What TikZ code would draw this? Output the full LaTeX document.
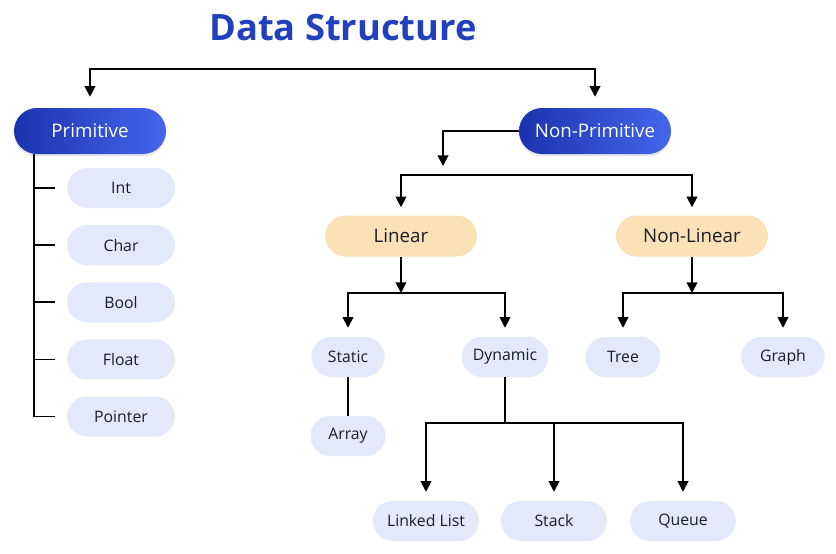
\documentclass[tikz,border=0pt]{standalone}
\usepackage{fontspec}
\setmainfont{Open Sans}
\usetikzlibrary{arrows.meta,positioning,shadows}
\definecolor{titleblue}{HTML}{2140BE}
\definecolor{navyleft}{HTML}{1A33B0}
\definecolor{navyright}{HTML}{4466EC}
\definecolor{sand}{HTML}{FBE2B6}
\definecolor{mist}{HTML}{E3E9FB}
\definecolor{ink}{HTML}{1C1C28}
\tikzset{
	% standard arrow tip
	>={Triangle[length=9pt,width=9pt]},
	% dark blue box
	mainbox/.style={
		rectangle,
		rounded corners=0.69cm,
		left color=navyleft, right color=navyright,
		text=white,
		minimum width=4.56cm, minimum height=1.38cm,
		drop shadow={opacity=0.2, shadow xshift=0pt, shadow yshift=-2pt},
		font=\fontsize{16}{19}\selectfont
	},
	% orange box
	kindbox/.style={
		rectangle,
		rounded corners=0.615cm,
		fill=sand, text=ink,
		minimum width=4.56cm, minimum height=1.23cm,
		font=\fontsize{16}{19}\selectfont
	},
	% light box
	leafbox/.style={
		rectangle,
		rounded corners=0.6cm,
		fill=mist, text=ink,
		minimum height=1.2cm,
		font=\fontsize{13.5}{16}\selectfont
	},
	% plain line
	line/.style={
		line width=1.5pt,
		draw=black
	},
	% arrow style
	arrow/.style={
		->,
		line width=1.5pt,
		draw=black
	}
}
\begin{document}
\begin{tikzpicture}[x=0.03cm, y=-0.03cm]
	\useasboundingbox (0,0) rectangle (836,553);

	\node[font=\fontsize{31}{36}\selectfont\bfseries, text=titleblue] (title) at (343,28) {Data Structure};

	\node[mainbox] (prim) at (90,131) {Primitive};
	\node[mainbox] (nonprim) at (595,131) {Non-Primitive};

	% primitive types
	\node[leafbox, minimum width=3.24cm] (int) at (121,188) {Int};
	\node[leafbox, minimum width=3.24cm, below=0.5cm of int] (char) {Char};
	\node[leafbox, minimum width=3.24cm, below=0.5cm of char] (bool) {Bool};
	\node[leafbox, minimum width=3.24cm, below=0.5cm of bool] (float) {Float};
	\node[leafbox, minimum width=3.24cm, below=0.5cm of float] (pointer) {Pointer};

	\node[kindbox] (linear) at (401,236) {Linear};
	\node[kindbox] (nonlinear) at (692,236) {Non-Linear};

	\node[leafbox, minimum width=2.2cm] (static) at (348,357) {Static};
	\node[leafbox, minimum width=2.6cm] (dynamic) at (505,357) {Dynamic};
	\node[leafbox, minimum width=2.25cm] (tree) at (623,357) {Tree};
	\node[leafbox, minimum width=2.5cm] (graph) at (783,357) {Graph};
	\node[leafbox, minimum width=2.25cm] (array) at (348,436) {Array};

	\node[leafbox, minimum width=3.18cm] (linked) at (426,521) {Linked List};
	\node[leafbox, minimum width=3.18cm] (stk) at (554,521) {Stack};
	\node[leafbox, minimum width=3.18cm] (queue) at (683,521) {Queue};

	% split points
	\coordinate (top) at (343,69);
	\coordinate (npend) at (443,166);
	\coordinate (kindsplit) at (545,175);
	\coordinate (linsplit) at (401,293);
	\coordinate (nlsplit) at (692,293);
	\coordinate (dynsplit) at (505,423);

	\draw[arrow, shorten >=0.33cm] (top) -| (prim);
	\draw[arrow, shorten >=0.33cm] (top) -| (nonprim);

	\draw[line] ([xshift=-1.68cm]prim.south) |- ([xshift=-0.36cm]pointer.west);
	\foreach \leaf in {int,char,bool,float}
		\draw[line] ([xshift=-0.36cm]\leaf.west) -- ++(-0.63cm,0);

	\draw[arrow] (nonprim.west) -| (npend);
	\draw[arrow, shorten >=0.24cm] (kindsplit) -| (linear);
	\draw[arrow, shorten >=0.24cm] (kindsplit) -| (nonlinear);

	\draw[arrow] (linear) -- (linsplit);
	\draw[arrow, shorten >=0.27cm] (linsplit) -| (static);
	\draw[arrow, shorten >=0.27cm] (linsplit) -| (dynamic);

	\draw[arrow] (nonlinear) -- (nlsplit);
	\draw[arrow, shorten >=0.27cm] (nlsplit) -| (tree);
	\draw[arrow, shorten >=0.27cm] (nlsplit) -| (graph);

	\draw[line] (static) -- (array);

	\draw[line] (dynamic) -- (dynsplit);
	\draw[arrow, shorten >=0.27cm] (dynsplit) -| (linked);
	\draw[arrow, shorten >=0.27cm] (dynsplit) -| (stk);
	\draw[arrow, shorten >=0.27cm] (dynsplit) -| (queue);
\end{tikzpicture}
\end{document}
